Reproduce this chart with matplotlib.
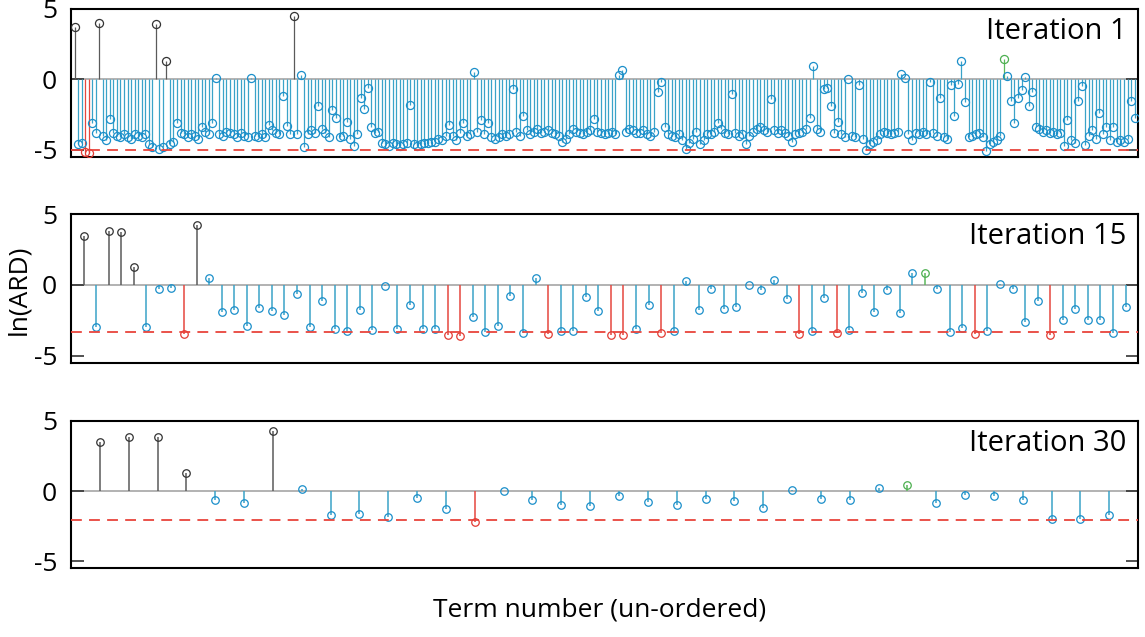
import numpy as np
import matplotlib.pyplot as plt

plt.rcParams['font.family'] = ['Open Sans', 'DejaVu Sans']

# %% data: ln(ARD) of every term, read off the three iterations
ard_it1 = [
    3.7, -4.6, -4.5, -5.15, -5.2, -3.1, -3.8, 4.0, -4.0, -4.3,
    -2.8, -3.8, -4.0, -4.1, -3.9, -4.1, -4.2, -3.9, -4.0, -4.1,
    -3.9, -4.6, -4.8, 3.9, -4.9, -4.8, 1.3, -4.6, -4.4, -3.1,
    -3.8, -3.9, -4.1, -3.9, -4.0, -4.2, -3.4, -3.7, -3.9, -3.1,
    0.1, -3.9, -4.0, -3.7, -3.8, -3.9, -4.1, -3.8, -4.0, -4.1,
    0.1, -4.0, -4.1, -3.9, -4.1, -3.2, -3.6, -3.8, -3.9, -1.2,
    -3.3, -3.9, 4.5, -3.9, 0.3, -4.8, -3.9, -3.6, -3.8, -1.9,
    -3.5, -3.8, -4.1, -2.2, -2.7, -4.1, -4.0, -3.0, -4.2, -4.7,
    -3.9, -1.3, -2.1, -0.6, -3.4, -3.8, -3.7, -4.5, -4.6, -4.7,
    -4.5, -4.6, -4.7, -4.6, -4.5, -1.8, -4.6, -4.7, -4.6, -4.5,
    -4.5, -4.4, -4.4, -4.2, -4.3, -4.0, -3.2, -4.0, -4.3, -3.8,
    -3.1, -4.0, -3.9, 0.5, -3.7, -2.9, -3.9, -3.1, -4.1, -4.2,
    -4.1, -3.9, -4.0, -3.9, -0.7, -3.7, -4.0, -2.6, -3.6, -3.9,
    -3.7, -3.5, -3.8, -3.7, -3.6, -3.8, -3.9, -4.0, -4.4, -4.2,
    -3.9, -3.5, -3.7, -3.8, -3.9, -3.7, -3.6, -2.8, -3.7, -3.8,
    -3.9, -3.8, -3.7, -3.9, 0.3, 0.7, -3.7, -3.5, -3.6, -3.8,
    -3.8, -3.6, -3.9, -4.0, -3.7, -0.9, -0.15, -3.4, -3.9, -4.0,
    -4.1, -3.9, -4.3, -4.9, -4.5, -4.2, -3.7, -4.6, -4.3, -3.9,
    -3.9, -3.7, -3.1, -3.5, -3.8, -3.9, -1.0, -3.8, -4.0, -3.9,
    -4.6, -4.0, -3.7, -3.5, -3.4, -3.6, -3.7, -1.4, -3.6, -3.8,
    -3.6, -3.8, -4.0, -4.4, -3.9, -3.8, -3.7, -3.5, -2.7, 0.95,
    -3.5, -3.7, -0.7, -0.6, -1.9, -3.8, -3.0, -3.9, -4.1, 0.05,
    -4.0, -4.1, -0.4, -4.2, -5.0, -4.6, -4.4, -4.3, -3.9, -3.7,
    -3.8, -3.9, -3.8, -3.7, 0.4, 0.1, -3.9, -4.3, -3.8, -3.9,
    -3.7, -3.9, -0.2, -3.8, -4.0, -1.3, -4.1, -4.2, -0.4, -2.6,
    -0.3, 1.3, -1.6, -4.1, -4.0, -3.9, -3.8, -4.1, -5.05, -4.6,
    -4.4, -4.3, -4.0, 1.45, 0.25, -1.5, -3.1, -1.3, -0.75, 0.2,
    -1.9, -0.9, -3.4, -3.5, -3.7, -3.6, -3.8, -3.7, -3.9, -3.8,
    -4.7, -2.9, -4.3, -4.5, -1.5, -0.45, -4.65, -4.0, -3.6, -4.2,
    -2.4, -3.9, -3.4, -4.3, -3.4, -4.4, -4.3, -4.4, -4.2, -1.5,
    -2.7]
black_it1 = [1, 8, 24, 27, 63]
red_it1 = [4, 5]
green_it1 = [264]
thr_it1 = -5.0

ard_it15 = [
    3.48, -2.93, 3.83, 3.76, 1.29, -2.98, -0.26, -0.19, -3.45, 4.21,
    0.48, -1.88, -1.79, -2.86, -1.62, -1.81, -2.10, -0.64, -2.93, -1.14,
    -3.10, -3.21, -1.76, -3.14, -0.05, -3.10, -1.38, -3.10, -3.10, -3.50,
    -3.60, -2.29, -3.33, -2.86, -0.81, -3.38, 0.48, -3.43, -3.24, -3.21,
    -0.88, -1.86, -3.52, -3.52, -3.10, -1.40, -3.38, -3.21, 0.26, -1.74,
    -0.31, -1.71, -1.52, -0.03, -0.36, 0.33, -1.02, -3.43, -3.26, -0.93,
    -3.38, -3.19, -0.60, -1.88, -0.36, -2.00, 0.83, 0.86, -0.29, -3.33,
    -3.02, -3.43, -3.26, 0.05, -0.26, -2.62, -1.14, -3.50, -2.45, -1.67,
    -2.45, -2.45, -3.36, -1.55]
black_it15 = [1, 3, 4, 5, 10]
red_it15 = [9, 30, 31, 38, 43, 44, 47, 58, 61, 72, 78]
green_it15 = [68]
thr_it15 = -3.33

ard_it30 = [
    3.52, 3.88, 3.88, 1.29, -0.62, -0.84, 4.28, 0.12, -1.72, -1.67,
    -1.84, -0.50, -1.32, -2.20, 0.03, -0.67, -0.98, -1.07, -0.38, -0.77,
    -0.99, -0.58, -0.70, -1.23, 0.05, -0.60, -0.65, 0.20, 0.45, -0.89,
    -0.26, -0.38, -0.65, -2.02, -2.00, -1.70]
black_it30 = [1, 2, 3, 4, 7]
red_it30 = [14]
green_it30 = [29]
thr_it30 = -2.05

titles = ['Iteration 1', 'Iteration 15', 'Iteration 30']

# %% colours (stem, marker)
c_blue = ('#3aa3c8', '#1b8fca')
c_black = ('#5a5a5a', '#333333')
c_red = ('#e5473f', '#e23b33')
c_green = ('#5cb85c', '#4caf50')

panels = [
    (ard_it1, black_it1, red_it1, green_it1, thr_it1),
    (ard_it15, black_it15, red_it15, green_it15, thr_it15),
    (ard_it30, black_it30, red_it30, green_it30, thr_it30),
]
boxes = [[0.062, 0.7535, 0.932, 0.2324],
         [0.062, 0.4301, 0.932, 0.2339],
         [0.062, 0.1083, 0.932, 0.2308]]

fig = plt.figure(figsize=(11.45, 6.37), dpi=100)

for k, (vals, blk, red, grn, thr) in enumerate(panels):
    ax = fig.add_axes(boxes[k])
    vals = np.array(vals)
    n = len(vals)
    idx = np.arange(1, n + 1)
    group = np.full(n, 'b', dtype=object)
    group[np.array(blk) - 1] = 'k'
    group[np.array(red) - 1] = 'r'
    group[np.array(grn) - 1] = 'g'

    ax.axhline(0, color='#a6a6a6', lw=1.2, zorder=1)
    lw = 0.9 if n > 100 else 1.1
    ms = 5.8 if n > 100 else 5.4
    for g, col in [('b', c_blue), ('k', c_black), ('r', c_red), ('g', c_green)]:
        m = group == g
        if not m.any():
            continue
        ax.vlines(idx[m], 0, vals[m], color=col[0], lw=lw, zorder=2)
        ax.plot(idx[m], vals[m], 'o', ms=ms, mfc='none', mec=col[1],
                mew=0.9, zorder=3)
    ax.axhline(thr, color='#e8443c', lw=1.3, ls=(0, (6, 4)), zorder=4)

    ax.set_xlim(0, n + 1)
    ax.set_ylim(-5.5, 5)
    ax.set_xticks([])
    ax.set_yticks([-5, 0, 5])
    ax.set_yticklabels(['-5', '0', '5'])
    ax.tick_params(axis='y', direction='in', length=9, width=1.2,
                   right=True, labelsize=19, pad=10, color='#333333')
    for sp in ax.spines.values():
        sp.set_linewidth(1.5)
        sp.set_color('black')
    ax.text(0.989, 0.85, titles[k], transform=ax.transAxes, ha='right',
            va='center', fontsize=21)

fig.text(0.016, 0.545, 'ln(ARD)', rotation=90, ha='center', va='center',
         fontsize=19)
fig.text(0.524, 0.042, 'Term number (un-ordered)', ha='center', va='center',
         fontsize=19)

fig.savefig('out.png', dpi=100)
